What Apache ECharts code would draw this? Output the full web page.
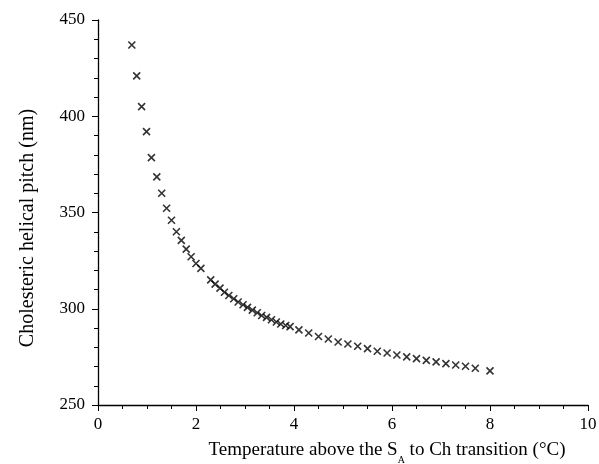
<!DOCTYPE html>
<html>
<head>
<meta charset="utf-8">
<script src="https://cdn.jsdelivr.net/npm/echarts@6/dist/echarts.min.js"></script>
<style>
  html, body { margin: 0; padding: 0; background: #fff; }
  #main { width: 599px; height: 464px; }
</style>
</head>
<body>
<div id="main"></div>
<script>
// temperature above the transition (°C)
var temps = [0.69, 0.79, 0.89, 0.99, 1.09, 1.2, 1.3, 1.4, 1.5, 1.6, 1.7, 1.8, 1.9, 2.0, 2.1,
    2.3, 2.39, 2.49, 2.58, 2.67, 2.77, 2.86, 2.96, 3.05, 3.15, 3.25, 3.34, 3.44, 3.54, 3.64, 3.73, 3.83, 3.92,
    4.1, 4.3, 4.5, 4.7, 4.9, 5.1, 5.3, 5.5, 5.7, 5.9, 6.1, 6.3, 6.5, 6.7, 6.9, 7.1, 7.3, 7.5, 7.7, 8.0];
// cholesteric helical pitch (nm)
var pitch = [437, 421, 405, 392, 378.5, 368.5, 360, 352.2, 346, 340, 335.5, 331, 327, 323.5, 321,
    315, 312.8, 310.7, 308.6, 306.9, 305.2, 303.5, 302.1, 300.7, 299.3, 297.9, 296.5, 295.5, 294.3, 293.1, 292.1, 291.3, 290.7,
    289, 287.4, 285.6, 284.3, 282.7, 281.7, 280.5, 279.3, 277.9, 277, 276, 275, 274.1, 273.2, 272.4, 271.5, 270.8, 270.1, 269.1, 267.7];
var xTicks = [0, 2, 4, 6, 8, 10];
var yTicks = [250, 300, 350, 400, 450];

var font = 'Liberation Serif';
var chart = echarts.init(document.getElementById('main'));

var points = temps.map(function (t, i) { return [t, pitch[i]]; });

var option = {
    animation: false,
    grid: { left: 98, right: 11, top: 20, bottom: 59, outerBoundsMode: 'none' },
    xAxis: {
        type: 'value',
        min: xTicks[0],
        max: xTicks[xTicks.length - 1],
        interval: xTicks[1] - xTicks[0],
        name: 'Temperature above the S{sub|A} to Ch transition (°C)',
        nameLocation: 'middle',
        nameGap: 30,
        nameTextStyle: {
            fontFamily: font, fontSize: 19, color: '#000',
            padding: [0, 0, 0, 88],
            rich: {
                sub: { fontFamily: font, fontSize: 10, color: '#000', verticalAlign: 'bottom', lineHeight: 30 }
            }
        },
        axisLine: { lineStyle: { color: '#000', width: 1.3 } },
        axisTick: { length: 6, lineStyle: { color: '#000', width: 1 } },
        minorTick: { show: true, splitNumber: 4, length: 4, lineStyle: { color: '#000', width: 1 } },
        axisLabel: { fontFamily: font, fontSize: 17, color: '#000', margin: 11 },
        splitLine: { show: false }
    },
    yAxis: {
        type: 'value',
        min: yTicks[0],
        max: yTicks[yTicks.length - 1],
        interval: yTicks[1] - yTicks[0],
        name: 'Cholesteric helical pitch (nm)',
        nameLocation: 'middle',
        nameGap: 60,
        nameTextStyle: {
            fontFamily: font, fontSize: 20, color: '#000',
            padding: [0, 31, 0, 0]
        },
        axisLine: { show: true, lineStyle: { color: '#000', width: 1.3 } },
        axisTick: { show: true, length: 6, lineStyle: { color: '#000', width: 1 } },
        minorTick: { show: true, splitNumber: 5, length: 4, lineStyle: { color: '#000', width: 1 } },
        axisLabel: { fontFamily: font, fontSize: 17, color: '#000', margin: 13 },
        splitLine: { show: false }
    },
    series: [{
        type: 'scatter',
        data: points,
        symbol: 'path://M0,0L10,10M10,0L0,10',
        symbolSize: 7,
        itemStyle: { color: 'transparent', borderColor: '#000', borderWidth: 1.6 }
    }]
};

chart.setOption(option);
</script>
</body>
</html>
